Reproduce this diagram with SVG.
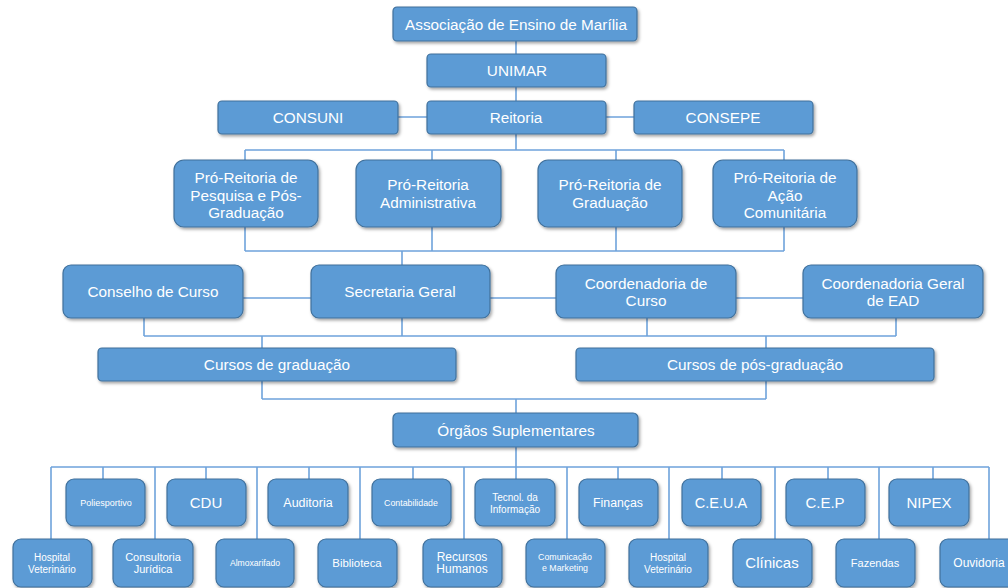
<svg xmlns="http://www.w3.org/2000/svg" width="1008" height="588" viewBox="0 0 1008 588">
<defs>
<filter id="sh" x="-10%" y="-10%" width="130%" height="140%">
<feDropShadow dx="1.5" dy="2" stdDeviation="1.5" flood-color="#000" flood-opacity="0.35"/>
</filter>
<style>
.b{fill:#5B9BD5;stroke:#41719C;stroke-width:1.2;filter:url(#sh)}
.t{fill:#fff;font-family:"Liberation Sans",Arial,sans-serif;text-anchor:middle;dominant-baseline:central}
.m{font-size:15.3px}
.c{stroke:#6FA3DB;stroke-width:1.6;fill:none}
</style>
</defs>
<rect width="1008" height="588" fill="#fff"/>
<g id="connectors" class="c">
<path d="M516 41V54M516 87V101M398 117H427M606 117H634M516 134V150M245 150H784M245 150V160M432 150V160M616 150V160M784 150V160"/>
<path d="M245 227V251M432 227V251M616 227V251M784 227V251M245 251H784M402 251V265"/>
<path d="M243 298H311M490 298H556M736 298H803"/>
<path d="M144 318V336M402 318V336M647 318V336M896 318V336M144 336H896M262 336V348M766 336V348"/>
<path d="M262 381V399M766 381V399M262 399H766M516 399V413M516 447V467M51 467H989"/>
<path d="M103 467V479M206 467V479M309 467V479M413 467V479M516 467V479M618 467V479M722 467V479M828 467V479M933 467V479"/>
<path d="M51 467V539M155 467V539M257 467V539M360 467V539M464 467V539M567 467V539M669 467V539M775 467V539M879 467V539M989 467V539"/>
</g>
<g id="n-aem"><rect class="b" x="393" y="7" width="244" height="34" rx="4"/><text class="t m" x="516" y="24">Associação de Ensino de Marília</text></g>
<g id="n-unimar"><rect class="b" x="427" y="54" width="179" height="33" rx="4"/><text class="t m" x="517" y="70.5">UNIMAR</text></g>
<g id="n-consuni"><rect class="b" x="218" y="101" width="180" height="33" rx="4"/><text class="t m" x="308" y="117.5">CONSUNI</text></g>
<g id="n-reitoria"><rect class="b" x="427" y="101" width="179" height="33" rx="4"/><text class="t m" x="516" y="117.5">Reitoria</text></g>
<g id="n-consepe"><rect class="b" x="634" y="101" width="179" height="33" rx="4"/><text class="t m" x="723" y="117.5">CONSEPE</text></g>
<g id="n-prppg"><rect class="b" x="174" y="160" width="144" height="67" rx="10"/><text class="t m"><tspan x="246" y="177">Pró-Reitoria de</tspan><tspan x="246" y="194.5">Pesquisa e Pós-</tspan><tspan x="246" y="212">Graduação</tspan></text></g>
<g id="n-pra"><rect class="b" x="356" y="160" width="145" height="67" rx="10"/><text class="t m"><tspan x="428" y="184">Pró-Reitoria</tspan><tspan x="428" y="202">Administrativa</tspan></text></g>
<g id="n-prg"><rect class="b" x="538" y="160" width="144" height="67" rx="10"/><text class="t m"><tspan x="610" y="184">Pró-Reitoria de</tspan><tspan x="610" y="202">Graduação</tspan></text></g>
<g id="n-prac"><rect class="b" x="713" y="160" width="144" height="67" rx="10"/><text class="t m"><tspan x="785" y="177">Pró-Reitoria de</tspan><tspan x="785" y="194.5">Ação</tspan><tspan x="785" y="212">Comunitária</tspan></text></g>
<g id="n-conselho"><rect class="b" x="63" y="265" width="180" height="53" rx="8"/><text class="t m" x="153" y="291">Conselho de Curso</text></g>
<g id="n-secretaria"><rect class="b" x="311" y="265" width="179" height="53" rx="8"/><text class="t m" x="400" y="291">Secretaria Geral</text></g>
<g id="n-coord"><rect class="b" x="556" y="265" width="180" height="53" rx="8"/><text class="t m"><tspan x="646" y="283">Coordenadoria de</tspan><tspan x="646" y="300">Curso</tspan></text></g>
<g id="n-ead"><rect class="b" x="803" y="265" width="180" height="53" rx="8"/><text class="t m"><tspan x="893" y="283">Coordenadoria Geral</tspan><tspan x="893" y="300">de EAD</tspan></text></g>
<g id="n-grad"><rect class="b" x="98" y="348" width="358" height="33" rx="4"/><text class="t m" x="277" y="364.5">Cursos de graduação</text></g>
<g id="n-pos"><rect class="b" x="576" y="348" width="358" height="33" rx="4"/><text class="t m" x="755" y="364.5">Cursos de pós-graduação</text></g>
<g id="n-orgaos"><rect class="b" x="393" y="413" width="245" height="34" rx="5"/><text class="t m" x="516" y="430">Órgãos Suplementares</text></g>
<g id="n-polies"><rect class="b" x="66" y="479" width="79" height="47" rx="8"/><text class="t" x="106" y="502.5" font-size="9">Poliesportivo</text></g>
<g id="n-cdu"><rect class="b" x="167" y="479" width="79" height="47" rx="8"/><text class="t" x="206" y="502.5" font-size="15">CDU</text></g>
<g id="n-auditoria"><rect class="b" x="268" y="479" width="80" height="47" rx="8"/><text class="t" x="308" y="502.5" font-size="12.5">Auditoria</text></g>
<g id="n-contab"><rect class="b" x="372" y="479" width="79" height="47" rx="8"/><text class="t" x="411" y="502.5" font-size="8.8">Contabilidade</text></g>
<g id="n-tecnol"><rect class="b" x="475" y="479" width="80" height="47" rx="8"/><text class="t" font-size="10"><tspan x="515" y="497">Tecnol. da</tspan><tspan x="515" y="508.5">Informação</tspan></text></g>
<g id="n-financas"><rect class="b" x="579" y="479" width="79" height="47" rx="8"/><text class="t" x="618" y="502.5" font-size="12.3">Finanças</text></g>
<g id="n-ceua"><rect class="b" x="682" y="479" width="79" height="47" rx="8"/><text class="t" x="721" y="502.5" font-size="14.5">C.E.U.A</text></g>
<g id="n-cep"><rect class="b" x="786" y="479" width="79" height="47" rx="8"/><text class="t" x="825" y="502.5" font-size="15">C.E.P</text></g>
<g id="n-nipex"><rect class="b" x="889" y="479" width="80" height="47" rx="8"/><text class="t" x="929" y="502.5" font-size="15">NIPEX</text></g>
<g id="n-hv1"><rect class="b" x="13" y="539" width="79" height="48" rx="8"/><text class="t" font-size="10"><tspan x="52" y="557">Hospital</tspan><tspan x="52" y="568.5">Veterinário</tspan></text></g>
<g id="n-consult"><rect class="b" x="113" y="539" width="80" height="48" rx="8"/><text class="t" font-size="11"><tspan x="153" y="556.5">Consultoria</tspan><tspan x="153" y="569">Jurídica</tspan></text></g>
<g id="n-almox"><rect class="b" x="216" y="539" width="78" height="48" rx="8"/><text class="t" x="255" y="562.5" font-size="8.6">Almoxarifado</text></g>
<g id="n-biblio"><rect class="b" x="318" y="539" width="79" height="48" rx="8"/><text class="t" x="357" y="562.5" font-size="11.4">Biblioteca</text></g>
<g id="n-rh"><rect class="b" x="423" y="539" width="79" height="48" rx="8"/><text class="t" font-size="12"><tspan x="462" y="556.5">Recursos</tspan><tspan x="462" y="568.5">Humanos</tspan></text></g>
<g id="n-comunic"><rect class="b" x="526" y="539" width="79" height="48" rx="8"/><text class="t" font-size="8.8"><tspan x="565" y="557">Comunicação</tspan><tspan x="565" y="568">e Marketing</tspan></text></g>
<g id="n-hv2"><rect class="b" x="629" y="539" width="79" height="48" rx="8"/><text class="t" font-size="10"><tspan x="668" y="557">Hospital</tspan><tspan x="668" y="568.5">Veterinário</tspan></text></g>
<g id="n-clinicas"><rect class="b" x="733" y="539" width="79" height="48" rx="8"/><text class="t" x="772" y="562.5" font-size="15">Clínicas</text></g>
<g id="n-fazendas"><rect class="b" x="836" y="539" width="79" height="48" rx="8"/><text class="t" x="875" y="562.5" font-size="11">Fazendas</text></g>
<g id="n-ouvidoria"><rect class="b" x="940" y="539" width="79" height="48" rx="8"/><text class="t" x="979" y="562.5" font-size="12">Ouvidoria</text></g>
</svg>
